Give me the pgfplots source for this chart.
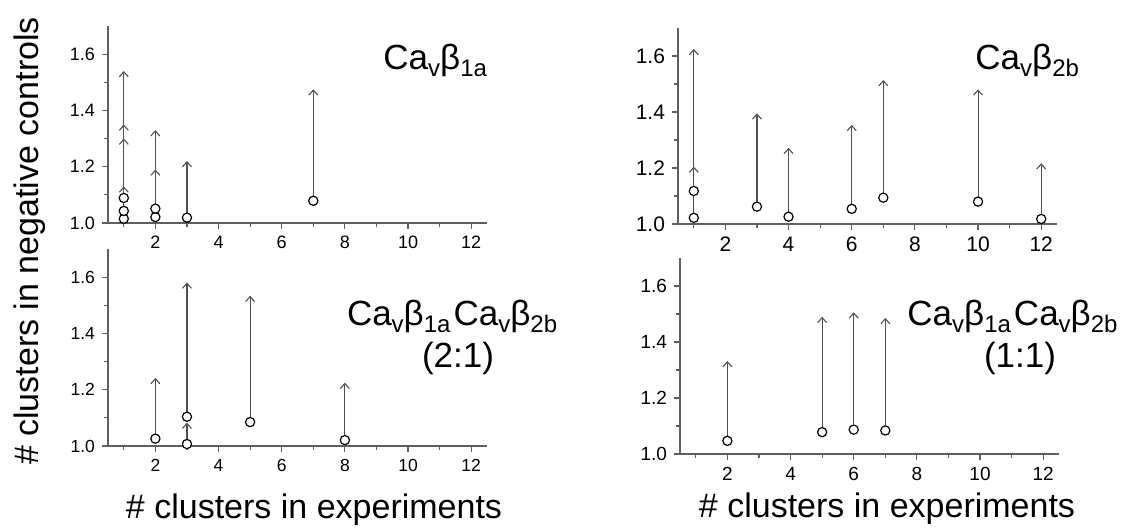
\documentclass[border=0pt]{standalone}
\usepackage{fontspec}
\setmainfont{Liberation Sans}
\usepackage{pgfplots}
\pgfplotsset{compat=1.18}
\usetikzlibrary{arrows.meta}
\definecolor{axgray}{RGB}{95,95,95}
\definecolor{arrgray}{RGB}{80,80,80}
\newcommand{\sub}[1]{\raisebox{-3.5pt}{\fontsize{12}{13}\selectfont #1}}
\newcommand{\Cab}[1]{Ca\sub{v}β\sub{#1}}

\pgfplotsset{
  panel/.style={
    scale only axis, anchor=south west,
    width=189.5pt,
    axis x line*=bottom, axis y line*=left,
    axis line style={-, axgray, line width=0.75pt},
    every tick/.style={axgray, line width=0.6pt},
    tick align=outside,
    major tick length=3pt, minor tick length=2pt,
    xmin=0.5, xmax=12.5, ymin=1.0, ymax=1.7,
    xtick={2,4,...,12}, minor xtick={1,3,...,11},
    ytick={1.0,1.2,1.4,1.6}, minor ytick={1.1,1.3,1.5},
    yticklabel style={/pgf/number format/.cd, fixed, fixed zerofill, precision=1},
    /pgf/number format/assume math mode=true,
    clip=false,
  },
  arr/.style={arrgray, line width=0.55pt, -{Straight Barb[length=2.5pt,width=4.5pt]},
    quiver={u=0, v=\thisrow{top}-\thisrow{y}}},
  circ/.style={only marks, mark=*, mark size=2.3pt,
    mark options={fill=white, draw=black, line width=0.6pt}},
}

\begin{document}
\begin{tikzpicture}
\useasboundingbox (0,0) rectangle (561pt,265.5pt);

% top left
\begin{axis}[panel, at={(54pt,154pt)}, height=98.5pt,
  ticklabel style={font=\fontsize{9}{10}\selectfont}]
\addplot[arr] table {
x y top
1 1.015 1.54
1 1.043 1.35
1 1.043 1.30
1 1.089 1.13
2 1.021 1.33
2 1.051 1.19
3 1.019 1.22
7 1.079 1.475
};
\addplot[circ] table {
x y
1 1.015
1 1.043
1 1.089
2 1.021
2 1.051
3 1.019
7 1.079
};
\end{axis}

% top right
\begin{axis}[panel, at={(339pt,153.5pt)}, height=98pt,
  ticklabel style={font=\fontsize{10.5}{12}\selectfont}]
\addplot[arr] table {
x y top
1 1.022 1.625
1 1.118 1.205
3 1.062 1.395
4 1.026 1.272
6 1.054 1.354
7 1.094 1.514
10 1.080 1.481
12 1.018 1.217
};
\addplot[circ] table {
x y
1 1.022
1 1.118
3 1.062
4 1.026
6 1.054
7 1.094
10 1.080
12 1.018
};
\end{axis}

% bottom left
\begin{axis}[panel, at={(54pt,42.5pt)}, height=98.5pt,
  ticklabel style={font=\fontsize{8.75}{10}\selectfont}]
\addplot[arr] table {
x y top
2 1.026 1.242
3 1.104 1.581
3 1.007 1.083
5 1.085 1.534
8 1.021 1.225
};
\addplot[circ] table {
x y
2 1.026
3 1.104
3 1.007
5 1.085
8 1.021
};
\end{axis}

% bottom right
\begin{axis}[panel, at={(340pt,38.5pt)}, height=98pt,
  ticklabel style={font=\fontsize{9.5}{11}\selectfont}]
\addplot[arr] table {
x y top
2 1.047 1.332
5 1.078 1.490
6 1.087 1.506
7 1.084 1.486
};
\addplot[circ] table {
x y
2 1.047
5 1.078
6 1.087
7 1.084
};
\end{axis}

% panel titles
\begin{scope}[every node/.style={inner sep=0pt, font=\fontsize{17.5}{20}\selectfont}]
\node[anchor=base west] at (191.5pt,230.5pt) {\Cab{1a}};
\node[anchor=base west] at (487.5pt,230.5pt) {\Cab{2b}};
\node[anchor=base west] at (173.3pt,103pt) {\Cab{1a}\hspace{1.5pt}\Cab{2b}};
\node[anchor=base] at (229pt,82pt) {(2:1)};
\node[anchor=base west] at (453.5pt,103pt) {\Cab{1a}\hspace{1.5pt}\Cab{2b}};
\node[anchor=base] at (510pt,82pt) {(1:1)};
\end{scope}

% axis titles
\begin{scope}[every node/.style={inner sep=0pt, font=\fontsize{17}{20}\selectfont}]
\node[rotate=90, anchor=center] at (15pt,145pt) {\# clusters in negative controls};
\node[anchor=base] at (157pt,6.5pt) {\# clusters in experiments};
\node[anchor=base] at (443.5pt,7pt) {\# clusters in experiments};
\end{scope}
\end{tikzpicture}
\end{document}
